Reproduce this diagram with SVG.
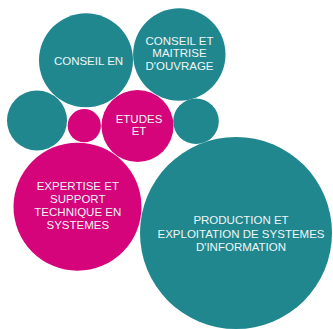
<svg xmlns="http://www.w3.org/2000/svg" width="333" height="329" viewBox="0 0 333 329">
<style>
.teal{fill:#21878f}
.mag{fill:#d5047b}
text{font-family:"Liberation Sans",Arial,sans-serif;font-size:11.5px;fill:#eef6f7;text-anchor:middle}
</style>
<rect width="333" height="329" fill="#ffffff"/>
<g id="n-production">
<circle class="teal" cx="236" cy="233" r="96"/>
<text x="241" y="224.3">PRODUCTION ET</text>
<text x="241" y="237.5">EXPLOITATION DE SYSTEMES</text>
<text x="241" y="250.7">D'INFORMATION</text>
</g>
<g id="n-expertise">
<circle class="mag" cx="77.5" cy="206.7" r="64"/>
<text x="77.8" y="190.3">EXPERTISE ET</text>
<text x="77.8" y="203">SUPPORT</text>
<text x="77.8" y="215.8">TECHNIQUE EN</text>
<text x="77.8" y="228.6">SYSTEMES</text>
</g>
<g id="n-conseil-en">
<circle class="teal" cx="86" cy="60.3" r="47"/>
<text x="88.5" y="64.7">CONSEIL EN</text>
</g>
<g id="n-conseil-moa">
<circle class="teal" cx="179.3" cy="54.5" r="46.2"/>
<text x="179.5" y="44.5">CONSEIL ET</text>
<text x="179.5" y="57.2">MAITRISE</text>
<text x="179.5" y="70">D'OUVRAGE</text>
</g>
<g id="n-teal-left">
<circle class="teal" cx="37" cy="120.5" r="30"/>
</g>
<g id="n-mag-small">
<circle class="mag" cx="84.3" cy="125.7" r="16.6"/>
</g>
<g id="n-etudes">
<circle class="mag" cx="137.5" cy="126" r="36"/>
<text x="139" y="122.5">ETUDES</text>
<text x="139" y="135">ET</text>
</g>
<g id="n-teal-right">
<circle class="teal" cx="196" cy="121.3" r="22.8"/>
</g>
<g id="connectors"></g>
</svg>
